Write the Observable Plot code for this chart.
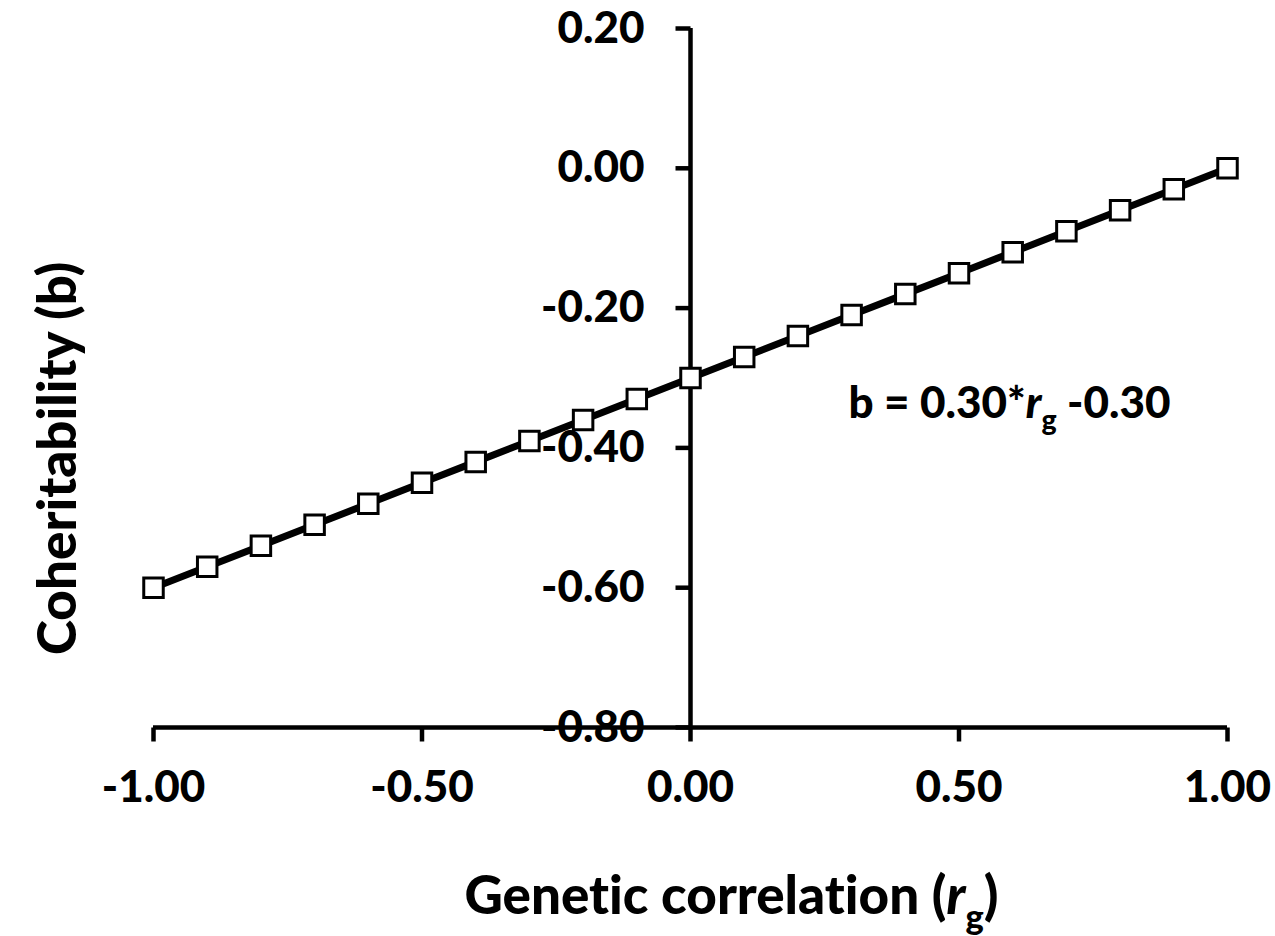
<!DOCTYPE html>
<html><head><meta charset="utf-8">
<script src="https://cdn.jsdelivr.net/npm/d3@7"></script>
<script src="https://cdn.jsdelivr.net/npm/@observablehq/plot@0.6"></script>
<style>body{margin:0;background:#fff;} svg text{font-variant-ligatures:none;font-feature-settings:"liga" 0;}</style>
</head><body><div id="chart"></div>
<script>
// Genetic correlation (x) and coheritability (y) values
const rg = [-1.0, -0.9, -0.8, -0.7, -0.6, -0.5, -0.4, -0.3, -0.2, -0.1, 0.0, 0.1, 0.2, 0.3, 0.4, 0.5, 0.6, 0.7, 0.8, 0.9, 1.0];
const coher = [-0.60, -0.57, -0.54, -0.51, -0.48, -0.45, -0.42, -0.39, -0.36, -0.33, -0.30, -0.27, -0.24, -0.21, -0.18, -0.15, -0.12, -0.09, -0.06, -0.03, 0.00];
const xTicks = [-1.0, -0.5, 0.0, 0.5, 1.0];
const yTicks = [0.2, 0.0, -0.2, -0.4, -0.6, -0.8];
const xTitle = "Genetic correlation (rg)";
const yTitle = "Coheritability (b)";
const equation = "b = 0.30*rg -0.30";

const data = rg.map((x, i) => ({x, y: coher[i]}));
const fmt = d => d.toFixed(2);

const tickLeft = {draw(ctx) { ctx.moveTo(-15, 0); ctx.lineTo(0, 0); }};
const tickDown = {draw(ctx) { ctx.moveTo(0, 0); ctx.lineTo(0, 14); }};

const FONT = "Lato, 'Noto Sans', sans-serif";
const W = 900;

const chart = Plot.plot({
  width: 1275,
  height: 936,
  marginLeft: 153,
  marginRight: 48,
  marginTop: 28,
  marginBottom: 209,
  x: {domain: [-1, 1], axis: null},
  y: {domain: [-0.8, 0.2], axis: null},
  style: {fontFamily: FONT, fontWeight: W, color: "black", background: "white", overflow: "visible"},
  marks: [
    Plot.ruleY([-0.8], {x1: -1, x2: 1, stroke: "black", strokeWidth: 4.5}),
    Plot.ruleX([0], {y1: -0.8, y2: 0.2, stroke: "black", strokeWidth: 4.5}),
    Plot.dot(yTicks, {x: 0, y: d => d, symbol: tickLeft, r: 5, stroke: "black", strokeWidth: 4.5, fill: "none"}),
    Plot.dot(xTicks, {x: d => d, y: -0.8, symbol: tickDown, r: 5, stroke: "black", strokeWidth: 4.5, fill: "none"}),
    Plot.text(yTicks, {x: 0, y: d => d, text: fmt, dx: -46, textAnchor: "end", fontSize: 44, fontWeight: W, fill: "black"}),
    Plot.text(xTicks, {x: d => d, y: -0.8, text: fmt, dy: 60, fontSize: 44, fontWeight: W, fill: "black"}),
    Plot.line(data, {x: "x", y: "y", stroke: "black", strokeWidth: 7}),
    Plot.dot(data, {x: "x", y: "y", symbol: "square", r: 11, fill: "white", stroke: "black", strokeWidth: 3}),
    Plot.text([equation], {x: 0.294, y: -0.337, textAnchor: "start", fontSize: 44, fontWeight: W, fill: "black", className: "eq"}),
    Plot.text([xTitle], {x: 0, y: -0.8, dx: 41, dy: 170, fontSize: 53, fontWeight: W, fill: "black", className: "xtitle"}),
    Plot.text([yTitle], {x: -1, y: -0.415, dx: -94, rotate: -90, fontSize: 53, fontWeight: W, fill: "black"})
  ]
});
document.getElementById("chart").appendChild(chart);

// rich text: italic r with subscript g
function rich(cls, before, after, size) {
  const t = d3.select(chart).select("g." + cls + " text");
  t.text(null);
  t.append("tspan").text(before);
  t.append("tspan").attr("font-style", "italic").text("r");
  t.append("tspan").attr("font-size", size * 0.65).attr("dy", size * 0.28).text("g");
  t.append("tspan").attr("dy", -size * 0.28).text(after);
}
rich("eq", "b = 0.30*", " -0.30", 44);
rich("xtitle", "Genetic correlation (", ")", 53);
</script>
</body></html>
